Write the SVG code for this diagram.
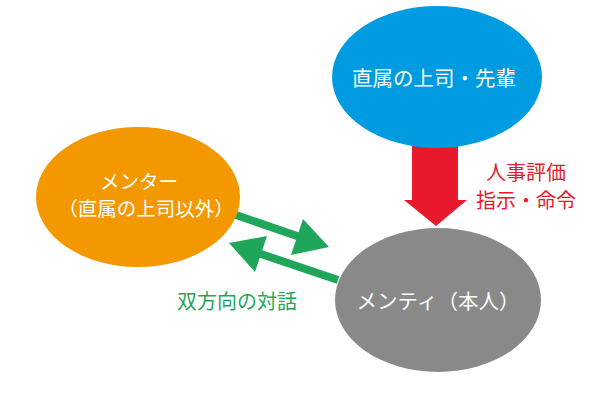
<svg xmlns="http://www.w3.org/2000/svg" width="600" height="400" viewBox="0 0 600 400">
<style>
.t{font-family:"Noto Sans CJK JP","Noto Sans CJK SC",sans-serif;font-size:20px;text-anchor:middle;dominant-baseline:central}
.w{fill:#ffffff;font-size:20.5px}
.m{font-size:19.5px}
.g{stroke:#1fa65a;stroke-width:8;fill:none}
.gh{fill:#1fa65a}
</style>
<rect width="600" height="400" fill="#ffffff"/>
<g id="connectors">
<path d="M412,146 H458 V200 H467 L436,226 L404,200 H412 Z" fill="#e8192c"/>
<line class="g" x1="236" y1="215" x2="300" y2="237"/>
<polygon class="gh" points="329,247 303,219 291,255"/>
<line class="g" x1="338" y1="280" x2="258" y2="253"/>
<polygon class="gh" points="229,243 267,236 255,272"/>
</g>
<g id="boss">
<ellipse cx="437" cy="77" rx="105" ry="71" fill="#009be1"/>
<text class="t w" x="434" y="77">直属の上司・先輩</text>
</g>
<g id="mentor">
<ellipse cx="138" cy="197" rx="102" ry="70" fill="#f39800"/>
<text class="t w m" x="139" y="180">メンター</text>
<text class="t w m" x="146" y="207">（直属の上司以外）</text>
</g>
<g id="mentee">
<ellipse cx="438" cy="300" rx="103" ry="72" fill="#898989"/>
<text class="t w" x="438" y="300">メンティ（本人）</text>
</g>
<g id="labels">
<text class="t" x="526" y="171" fill="#e8192c">人事評価</text>
<text class="t" x="526" y="199" fill="#e8192c">指示・命令</text>
<text class="t" x="237" y="300" fill="#1fa65a">双方向の対話</text>
</g>
</svg>
